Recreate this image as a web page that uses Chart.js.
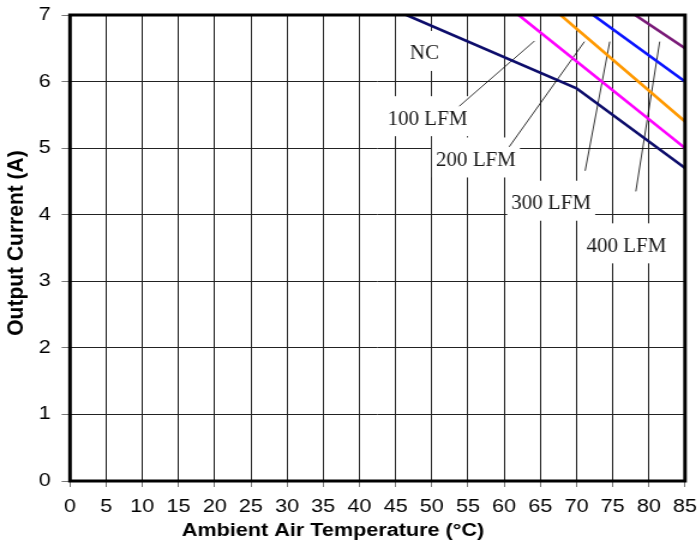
<!DOCTYPE html>
<html>
<head>
<meta charset="utf-8">
<script src="https://cdn.jsdelivr.net/npm/chart.js@4.4.0/dist/chart.umd.min.js"></script>
<style>
html, body { margin: 0; padding: 0; background: #fff; overflow: hidden; }
/* the original picture is stretched sideways, so the canvas is too */
#deratingchart { display: block; transform: scaleX(1.2); transform-origin: 0 0; }
</style>
</head>
<body>
<canvas id="deratingchart" width="581" height="548"></canvas>
<script>
var stretch = 1.2;

// derating curves: ambient temperature (°C) vs output current (A)
var nc_temp = [46.5, 70, 85];
var nc_current = [7, 5.9, 4.7];
var lfm100_temp = [62, 85];
var lfm100_current = [7, 5.0];
var lfm200_temp = [67.8, 85];
var lfm200_current = [7, 5.4];
var lfm300_temp = [72.3, 85];
var lfm300_current = [7, 6.0];
var lfm400_temp = [78.1, 85];
var lfm400_current = [7, 6.5];

// curve labels, placed in data units
var labelNames = ['NC', '100 LFM', '200 LFM', '300 LFM', '400 LFM'];
var labelTemp = [49.0, 49.4, 56.1, 66.5, 76.9];
var labelCurrent = [6.43, 5.45, 4.83, 4.18, 3.54];

// leader lines from the LFM labels to their curves
var leaderFromTemp = [53.8, 60.7, 71.2, 78.2];
var leaderFromCurrent = [5.63, 5.02, 4.66, 4.35];
var leaderToTemp = [64.2, 71.1, 74.6, 81.5];
var leaderToCurrent = [6.61, 6.6, 6.6, 6.6];

var xTicks = { min: 0, max: 85, step: 5 };
var yTicks = { min: 0, max: 7, step: 1 };

function toPoints(xs, ys) {
	var pts = [];
	for (let i = 0; i < xs.length; i++) {
		pts.push({ x: xs[i], y: ys[i] });
	}
	return pts;
}

function curve(label, xs, ys, color) {
	return {
		label: label,
		data: toPoints(xs, ys),
		borderColor: color,
		backgroundColor: color,
		borderWidth: 2.6,
		pointRadius: 0,
		tension: 0
	};
}

var datasets = [
	curve('NC', nc_temp, nc_current, '#0d0d6b'),
	curve('100 LFM', lfm100_temp, lfm100_current, '#ff00ff'),
	curve('200 LFM', lfm200_temp, lfm200_current, '#ff9900'),
	curve('300 LFM', lfm300_temp, lfm300_current, '#0a14ff'),
	curve('400 LFM', lfm400_temp, lfm400_current, '#7a1a78')
];
for (let i = 0; i < leaderFromTemp.length; i++) {
	datasets.push({
		label: 'leader' + i,
		data: toPoints([leaderFromTemp[i], leaderToTemp[i]], [leaderFromCurrent[i], leaderToCurrent[i]]),
		borderColor: '#000',
		borderWidth: 0.8,
		pointRadius: 0
	});
}

// white boxed serif labels, drawn un-stretched
var curveLabels = {
	id: 'curveLabels',
	beforeDatasetsDraw: function (chart) {
		var ctx = chart.ctx;
		var xs = chart.scales.x, ys = chart.scales.y;
		ctx.save();
		ctx.font = '21px "Liberation Serif", "Times New Roman", serif';
		ctx.textAlign = 'center';
		ctx.textBaseline = 'middle';
		for (let i = 0; i < labelNames.length; i++) {
			var px = xs.getPixelForValue(labelTemp[i]);
			var py = ys.getPixelForValue(labelCurrent[i]);
			var w = ctx.measureText(labelNames[i]).width;
			ctx.save();
			ctx.translate(px, py);
			ctx.scale(1 / stretch, 1);
			ctx.fillStyle = '#fff';
			ctx.fillRect(-w / 2 - 4, -22, w + 8, 40);
			ctx.fillStyle = '#1a1a1a';
			ctx.fillText(labelNames[i], 0, 1);
			ctx.restore();
		}
		ctx.restore();
	},
	afterDatasetsDraw: function (chart) {
		var ctx = chart.ctx;
		var a = chart.chartArea;
		ctx.save();
		ctx.strokeStyle = '#000';
		ctx.lineWidth = 3;
		ctx.strokeRect(a.left, a.top, a.right - a.left, a.bottom - a.top);
		ctx.restore();
	}
};

// axis titles sit where the original put them
var axisTitles = {
	id: 'axisTitles',
	afterDraw: function (chart) {
		var ctx = chart.ctx;
		ctx.save();
		ctx.fillStyle = '#000';
		ctx.textAlign = 'center';
		ctx.textBaseline = 'middle';
		ctx.font = 'bold 18px "Liberation Sans", Arial, sans-serif';
		ctx.fillText('Ambient Air Temperature (°C)', 277.5, 531);
		ctx.translate(14.6, 243);
		ctx.scale(1 / stretch, 1);
		ctx.rotate(-Math.PI / 2);
		ctx.font = 'bold 21px "Liberation Sans", Arial, sans-serif';
		ctx.fillText('Output Current (A)', 0, 0);
		ctx.restore();
	}
};

var tickFont = { family: '"Liberation Sans", Arial, sans-serif', size: 18 };

var ctx = document.getElementById('deratingchart').getContext('2d');
var deratingChart = new Chart(ctx, {
	type: 'line',
	data: { datasets: datasets },
	options: {
		responsive: false,
		animation: false,
		devicePixelRatio: 1,
		layout: {
			padding: { top: 15, right: 10.17, left: 0, bottom: 0 }
		},
		plugins: {
			legend: { display: false },
			tooltip: { enabled: false }
		},
		scales: {
			x: {
				type: 'linear',
				min: xTicks.min,
				max: xTicks.max,
				ticks: {
					stepSize: xTicks.step,
					autoSkip: false,
					maxRotation: 0,
					color: '#000',
					font: tickFont,
					padding: 9
				},
				grid: {
					color: '#222',
					lineWidth: 1,
					tickLength: 6,
					tickColor: '#777'
				},
				border: { display: false },
				afterFit: function (scale) {
					scale.height = 67;
					scale.paddingLeft = 0;
					scale.paddingRight = 0;
				}
			},
			y: {
				min: yTicks.min,
				max: yTicks.max,
				ticks: {
					stepSize: yTicks.step,
					color: '#000',
					font: tickFont,
					padding: 9
				},
				grid: {
					color: '#222',
					lineWidth: 1,
					tickLength: 7,
					tickColor: '#777'
				},
				border: { display: false },
				afterFit: function (scale) {
					scale.width = 58.33;
					scale.paddingTop = 0;
					scale.paddingBottom = 0;
				}
			}
		}
	},
	plugins: [curveLabels, axisTitles]
});
</script>
</body>
</html>
